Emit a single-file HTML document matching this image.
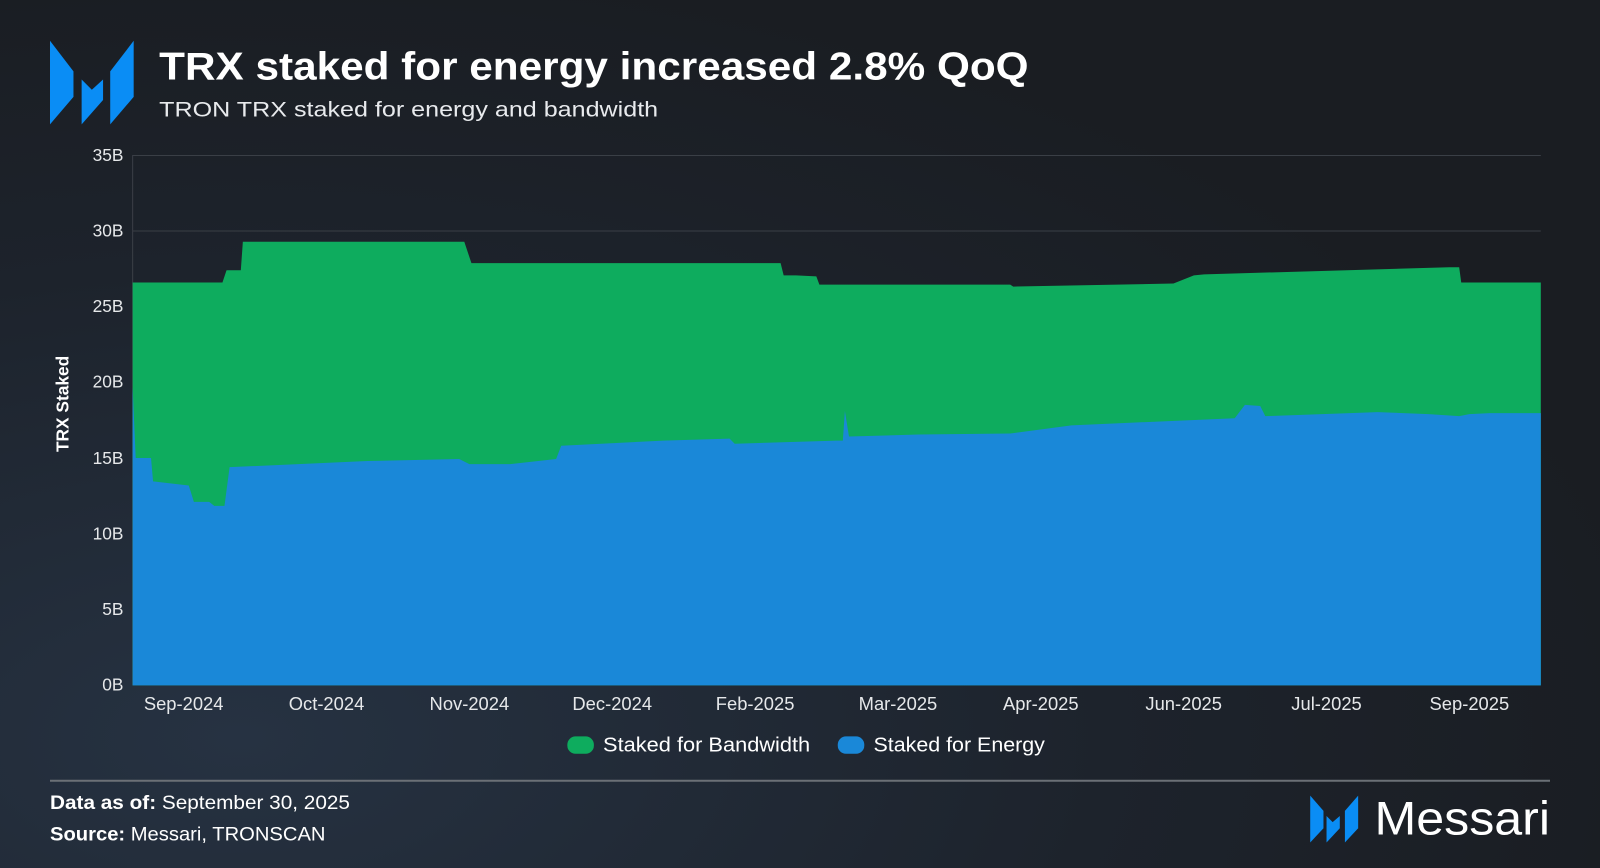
<!DOCTYPE html>
<html><head><meta charset="utf-8"><style>
html,body{margin:0;padding:0;width:1600px;height:868px;overflow:hidden;background:#1b1f25}
svg{display:block}
text{font-family:"Liberation Sans",sans-serif}
</style></head><body>
<svg width="1600" height="868" viewBox="0 0 1568 851" preserveAspectRatio="none">
<defs>
<radialGradient id="bg" cx="0.15" cy="0.85" r="0.9">
<stop offset="0" stop-color="#263242"/><stop offset="0.6" stop-color="#1d232c"/><stop offset="1" stop-color="#1a1d22"/>
</radialGradient>
</defs>
<rect width="1568" height="851" fill="url(#bg)"/>
<g fill="#0a8df5">
<polygon points="49,40 72,70 72,95 49,122"/>
<polygon points="80,78 90,88 101,78 101,98 80,122"/>
<polygon points="131,40 108,70 108,122 131,95"/>
</g>
<text x="156" y="78" font-size="38" font-weight="bold" fill="#fff" textLength="852" lengthAdjust="spacingAndGlyphs">TRX staked for energy increased 2.8% QoQ</text>
<text x="156" y="114" font-size="21" fill="#e8eaed" textLength="489" lengthAdjust="spacingAndGlyphs">TRON TRX staked for energy and bandwidth</text>
<g stroke="#3a3f46" stroke-width="1">
<line x1="130" y1="152.5" x2="1510" y2="152.5"/>
<line x1="130" y1="226.5" x2="1510" y2="226.5"/>
<line x1="130" y1="152" x2="130" y2="672"/>
</g>
<g font-size="17" fill="#e6e8ea" text-anchor="end">
<text x="121" y="158">35B</text><text x="121" y="232">30B</text><text x="121" y="306">25B</text>
<text x="121" y="380">20B</text><text x="121" y="455">15B</text><text x="121" y="529">10B</text>
<text x="121" y="603">5B</text><text x="121" y="677">0B</text>
</g>
<text transform="translate(67,396) rotate(-90)" font-size="17" font-weight="bold" fill="#fff" text-anchor="middle">TRX Staked</text>
<polygon fill="#0eac5e" points="130,672 130,277 218,277 222,265 236,265 238,237 455,237 462,258 765,258 768,270 780,270 800,271 803,279 990,279 993,281 1150,278 1170,270 1180,269 1420,262 1430,262 1432,277 1510,277 1510,672"/>
<polygon fill="#1a88d8" points="130,672 130,380 133,449 148,449 150,472 185,476 190,492 205,492 210,496 220,496 225,458 360,452 450,450 460,455 500,455 545,450 550,437 650,432 715,430 720,435 820,432 826,432 828,403 832,428 900,426 990,425 1050,417 1210,410 1220,397 1235,398 1240,408 1350,404 1400,406 1430,408 1440,406 1460,405 1510,405 1510,672"/>
<g font-size="18" fill="#e6e8ea" text-anchor="middle">
<text x="180" y="696">Sep-2024</text><text x="320" y="696">Oct-2024</text><text x="460" y="696">Nov-2024</text>
<text x="600" y="696">Dec-2024</text><text x="740" y="696">Feb-2025</text><text x="880" y="696">Mar-2025</text>
<text x="1020" y="696">Apr-2025</text><text x="1160" y="696">Jun-2025</text><text x="1300" y="696">Jul-2025</text>
<text x="1440" y="696">Sep-2025</text>
</g>
<rect x="556" y="722" width="26" height="17" rx="8" fill="#0eac5e"/>
<text x="591" y="737" font-size="20" fill="#fff" textLength="203" lengthAdjust="spacingAndGlyphs">Staked for Bandwidth</text>
<rect x="821" y="722" width="26" height="17" rx="8" fill="#1a88d8"/>
<text x="856" y="737" font-size="20" fill="#fff" textLength="168" lengthAdjust="spacingAndGlyphs">Staked for Energy</text>
<line x1="49" y1="765.5" x2="1519" y2="765.5" stroke="#6b7076" stroke-width="2"/>
<text x="49" y="793" font-size="19" fill="#fff" textLength="294" lengthAdjust="spacingAndGlyphs"><tspan font-weight="bold">Data as of:</tspan> September 30, 2025</text>
<text x="49" y="824" font-size="19" fill="#fff" textLength="270" lengthAdjust="spacingAndGlyphs"><tspan font-weight="bold">Source:</tspan> Messari, TRONSCAN</text>
<g fill="#0a8df5">
<polygon points="1284,780 1297,795 1297,812 1284,826"/>
<polygon points="1300,800 1306,806 1313,800 1313,812 1300,826"/>
<polygon points="1331,780 1318,795 1318,826 1331,812"/>
</g>
<text x="1347" y="818" font-size="46" fill="#fff" textLength="172" lengthAdjust="spacingAndGlyphs">Messari</text>
</svg>
</body></html>
